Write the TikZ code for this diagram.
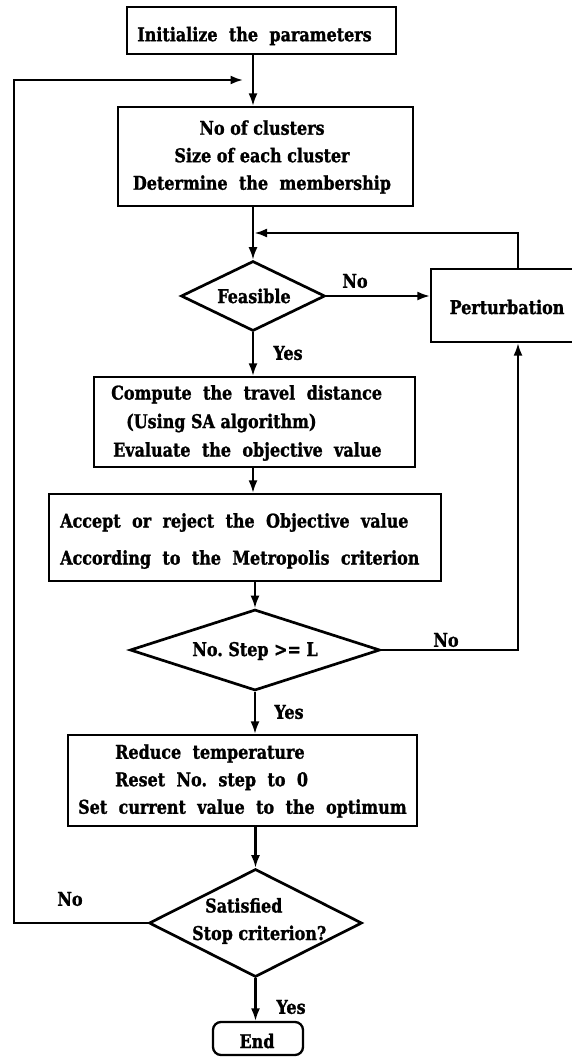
\documentclass[tikz,border=0pt]{standalone}
\usepackage{fontspec}
\setmainfont{DejaVu Serif}[FakeStretch=0.84,BoldFeatures={FakeBold=1.2}]
\usetikzlibrary{shapes.geometric,arrows.meta}
% wider interword spacing for the loosely set lines
\newcommand\ws{\spaceskip=0.6em\relax}
\begin{document}
\begin{tikzpicture}[x=1pt,y=-1pt,
  box/.style={draw,line width=2.3pt,inner sep=0pt},
  dec/.style={diamond,draw,line width=2.7pt,inner sep=0pt},
  txt/.style={font=\fontsize{19}{27.5}\selectfont\bfseries,inner sep=0pt},
  arr/.style={line width=2.1pt,-{Latex[length=12.5pt,width=9pt]}},
]
\useasboundingbox (0,0) rectangle (572,1057);
\fill[white] (0,0) rectangle (572,1057);
\clip (0,0) rectangle (572,1057);

% process boxes
\node[box,minimum width=269pt,minimum height=47pt] (init) at (261.5,30.5) {};
\node[txt] (initT) at (254.5,36) {\ws Initialize the parameters};

\node[box,minimum width=295pt,minimum height=99pt] (clus) at (265.5,156.5) {};
\node[txt,align=center] (clusT) at (262,157) {No of clusters\\Size of each cluster\\{\ws Determine the membership}};

\node[dec,minimum width=144pt,minimum height=70pt] (feas) at (253,296) {};
\node[txt] (feasT) at (254,296) {Feasible};

\node[box,minimum width=174pt,minimum height=73pt] (pert) at (518,305.5) {};
\node[txt] (pertT) at (507,307) {Perturbation};

\node[box,minimum width=321pt,minimum height=90pt] (comp) at (254.5,422) {};
\node[txt,align=left,anchor=west,font=\fontsize{19}{28.5}\selectfont\bfseries] (compT) at (111,423)
  {{\ws Compute the travel distance}\\\hspace*{15pt}(Using SA algorithm)\\\hspace*{2pt}{\ws Evaluate the objective value}};

\node[box,minimum width=392pt,minimum height=87pt] (acc) at (245,537.5) {};
\node[txt,align=left,anchor=west,font=\fontsize{19}{37}\selectfont\bfseries] (accT) at (60,541)
  {{\ws Accept or reject the Objective value}\\{\ws According to the Metropolis criterion}};

\node[dec,minimum width=250pt,minimum height=81pt] (stepd) at (255,650) {};
\node[txt] (stepT) at (255,651) {No.\ Step >= L};

\node[box,minimum width=349pt,minimum height=91pt] (red) at (242.5,780.5) {};
\node[txt,align=left,anchor=west] (redT) at (78,781)
  {\hspace*{37pt}{\ws Reduce temperature}\\\hspace*{37pt}{\ws Reset No.\ step to 0}\\{\ws Set current value to the optimum}};

\node[dec,minimum width=213pt,minimum height=108pt] (sat) at (255.5,923) {};
\node[txt,align=left,anchor=west] (satT) at (192,921) {\hspace*{13pt}Satisfied\\Stop criterion?};

\node[box,rounded corners=8pt,minimum width=90pt,minimum height=33pt] (end) at (258,1038.5) {};
\node[txt] (endT) at (257,1041) {End};

% main flow
\draw[arr] (init.south -| feas.north) -- (clus.north -| feas.north);
\draw[arr] (clus.south -| feas.north) -- (feas.north);
\draw[arr] (feas.east) -- (feas.east -| pert.west);
\draw[arr] (feas.south) -- (comp.north -| feas.south);
\draw[arr] (comp.south -| feas.south) -- (acc.north -| feas.south);
\draw[arr] (acc.south -| stepd.north) -- (stepd.north);
\draw[arr] (stepd.south) -- (red.north -| stepd.south);
\draw[arr] (red.south -| sat.north) -- (sat.north);
\draw[arr] (sat.south) -- (end.north -| sat.south);

% loops back
\draw[arr] (stepd.east) -| (pert.south);
\coordinate (fb) at (254.5,233);
\draw[arr] (pert.north) |- (fb);
\coordinate (lc) at (14,80);
\coordinate (lp) at (243,80);
\draw[arr] (sat.west) -| (lc) -- (lp);

% branch labels
\node[txt] (noA) at (355,281) {No};
\node[txt] (yesA) at (288,353) {Yes};
\node[txt] (noB) at (446,640) {No};
\node[txt] (yesB) at (289,712) {Yes};
\node[txt] (noC) at (70,899) {No};
\node[txt] (yesC) at (291,1007) {Yes};
\end{tikzpicture}
\end{document}
